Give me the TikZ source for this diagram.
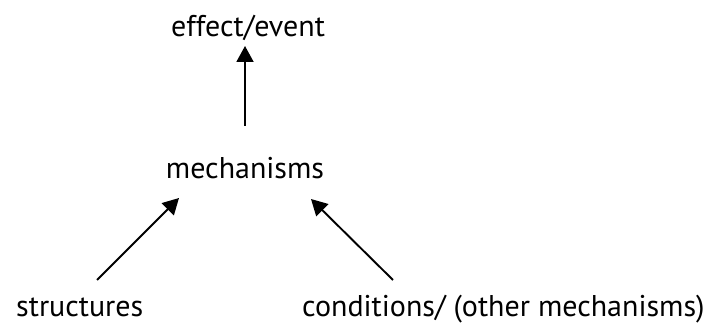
\documentclass[tikz,border=0pt]{standalone}
\usepackage{fontspec}
\setmainfont{PT Sans}
\usetikzlibrary{arrows.meta}
\tikzset{
  lbl/.style={inner sep=0pt, anchor=base, font=\fontsize{30}{32}\selectfont},
  conn/.style={line width=1.9pt, -{Triangle[length=16pt,width=17pt]}}
}
\begin{document}
\begin{tikzpicture}[x=1pt,y=1pt]
\useasboundingbox (0,0) rectangle (705,324);
\node[lbl] (effect) at (248,287) {effect/event};
\node[lbl] (mech) at (245,145) {mechanisms};
\node[lbl, anchor=base west] (struct) at (16,7) {structures};
\node[lbl, anchor=base west] (cond) at (302,7) {conditions/ (other mechanisms)};
\coordinate (m1) at (245,198);
\coordinate (e1) at (245,278);
\coordinate (s1) at (97,44);
\coordinate (m2) at (179,126);
\coordinate (c1) at (393,44);
\coordinate (m3) at (311,125);
\draw[conn] (m1) -- (e1);
\draw[conn] (s1) -- (m2);
\draw[conn] (c1) -- (m3);
\end{tikzpicture}
\end{document}
